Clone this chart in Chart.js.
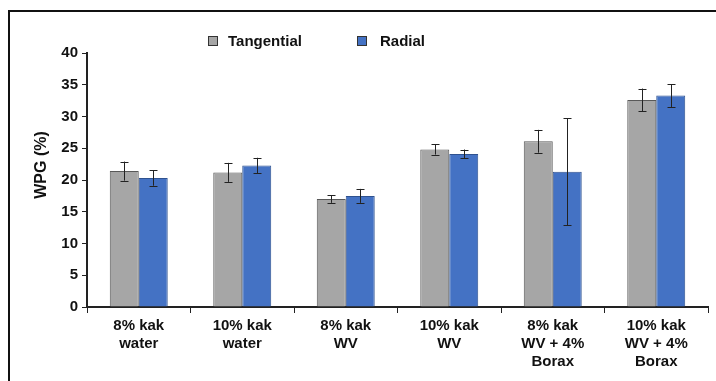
<!DOCTYPE html>
<html>
<head>
<meta charset="utf-8">
<script src="https://cdn.jsdelivr.net/npm/chart.js@4"></script>
<style>
  html, body { margin: 0; padding: 0; background: #fff; overflow: hidden; }
  #wrap { position: relative; width: 716px; height: 381px; overflow: hidden; }
  #frame { position: absolute; left: 8px; top: 10px; width: 760px; height: 400px;
    border-top: 2px solid #111; border-left: 2px solid #111; }
  #chart { position: absolute; left: 0; top: 0; }
  .leg { position: absolute; top: 32px; font: bold 15px "Liberation Sans", Arial, sans-serif;
    color: #111; line-height: 18px; }
  .leg i { position: absolute; top: 4px; width: 8px; height: 8px; border: 1px solid #333; }
</style>
</head>
<body>
<div id="wrap">
  <div id="frame"></div>
  <canvas id="chart" width="716" height="381"></canvas>
  <div id="legend"></div>
</div>
<script>
const categories = [
  ['8% kak', 'water'],
  ['10% kak', 'water'],
  ['8% kak', 'WV'],
  ['10% kak', 'WV'],
  ['8% kak', 'WV + 4%', 'Borax'],
  ['10% kak', 'WV + 4%', 'Borax'],
];
const tangential = [21.4, 21.2, 17.0, 24.8, 26.1, 32.6];
const tangentialErr = [1.5, 1.5, 0.6, 0.8, 1.8, 1.8];
const radial = [20.3, 22.3, 17.5, 24.1, 21.3, 33.3];
const radialErr = [1.2, 1.2, 1.1, 0.7, 8.45, 1.8];
const yTicks = [0, 5, 10, 15, 20, 25, 30, 35, 40];

const FONT = '"Liberation Sans", Arial, sans-serif';
const errors = [tangentialErr, radialErr];

const errorBars = {
  id: 'errorBars',
  afterDatasetsDraw(chart) {
    const { ctx } = chart;
    const yScale = chart.scales.y;
    ctx.save();
    ctx.strokeStyle = '#222';
    ctx.lineWidth = 1;
    chart.data.datasets.forEach((ds, i) => {
      const meta = chart.getDatasetMeta(i);
      meta.data.forEach((bar, j) => {
        const v = ds.data[j];
        const e = errors[i][j];
        const x = Math.round(bar.x) + 0.5;
        const yTop = yScale.getPixelForValue(v + e);
        const yBot = yScale.getPixelForValue(v - e);
        ctx.beginPath();
        ctx.moveTo(x, yTop);
        ctx.lineTo(x, yBot);
        ctx.moveTo(x - 4, Math.round(yTop) + 0.5);
        ctx.lineTo(x + 4, Math.round(yTop) + 0.5);
        ctx.moveTo(x - 4, Math.round(yBot) + 0.5);
        ctx.lineTo(x + 4, Math.round(yBot) + 0.5);
        ctx.stroke();
      });
    });
    ctx.restore();
  },
};

const yTitle = {
  id: 'yTitle',
  afterDraw(chart) {
    const { ctx } = chart;
    ctx.save();
    ctx.translate(42, 165);
    ctx.rotate(-Math.PI / 2);
    ctx.font = 'bold 16px ' + FONT;
    ctx.fillStyle = '#111';
    ctx.textAlign = 'center';
    ctx.textBaseline = 'middle';
    ctx.fillText('WPG (%)', 0, 0);
    ctx.restore();
  },
};

const chart = new Chart(document.getElementById('chart'), {
  type: 'bar',
  data: {
    labels: categories,
    datasets: [
      {
        label: 'Tangential',
        data: tangential,
        backgroundColor: '#a6a6a6',
        borderColor: '#595959',
        borderWidth: 1,
      },
      {
        label: 'Radial',
        data: radial,
        backgroundColor: '#4472c4',
        borderColor: '#2f528f',
        borderWidth: 1,
      },
    ],
  },
  options: {
    responsive: false,
    animation: false,
    layout: { padding: { top: 53, right: 8, left: 0, bottom: 0 } },
    datasets: { bar: { categoryPercentage: 0.56, barPercentage: 1.0 } },
    plugins: {
      legend: { display: false },
      tooltip: { enabled: false },
    },
    scales: {
      x: {
        grid: { drawOnChartArea: false, drawTicks: true, tickLength: 6, color: '#222', offset: true },
        border: { color: '#222', width: 2 },
        ticks: {
          color: '#111',
          font: { family: FONT, size: 15, weight: 'bold' },
          padding: 4,
          maxRotation: 0,
          autoSkip: false,
        },
        afterFit(scale) { scale.height = 74; },
      },
      y: {
        min: 0,
        max: 40,
        afterBuildTicks(scale) { scale.ticks = yTicks.map(v => ({ value: v })); },
        grid: { drawOnChartArea: false, drawTicks: true, tickLength: 5, color: '#222' },
        border: { color: '#222', width: 2 },
        ticks: {
          color: '#111',
          font: { family: FONT, size: 15, weight: 'bold' },
          padding: 4,
        },
        afterFit(scale) { scale.width = 87; },
      },
    },
  },
  plugins: [errorBars, yTitle],
});

// legend built from the datasets
const legendEl = document.getElementById('legend');
const legendX = [[208, 228], [357, 380]];
chart.data.datasets.forEach((ds, i) => {
  const item = document.createElement('div');
  item.className = 'leg';
  item.style.left = legendX[i][0] + 'px';
  item.style.paddingLeft = (legendX[i][1] - legendX[i][0]) + 'px';
  item.innerHTML = `<i style="left:0;background:${ds.backgroundColor}"></i>${ds.label}`;
  legendEl.appendChild(item);
});
</script>
</body>
</html>
